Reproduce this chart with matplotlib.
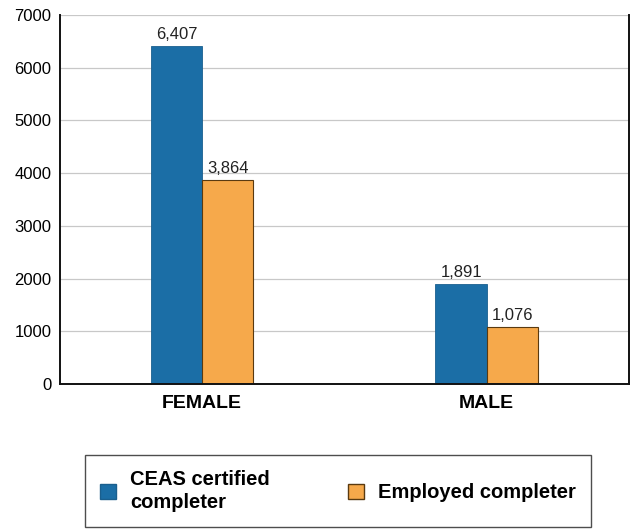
import matplotlib
matplotlib.use("Agg")
import matplotlib.pyplot as plt
from matplotlib.patches import Patch
import numpy as np

plt.rcParams['font.family'] = ['Liberation Sans', 'DejaVu Sans']

categories = ["FEMALE", "MALE"]
series_names = ["CEAS certified\ncompleter", "Employed completer"]
ceas = [6407, 1891]
employed = [3864, 1076]
yticks = [0, 1000, 2000, 3000, 4000, 5000, 6000, 7000]

blue = "#1b6ea6"
orange = "#f6a94b"

fig = plt.figure(figsize=(6.36, 5.29), dpi=100)
ax = fig.add_axes([0.094, 0.274, 0.895, 0.698])

x = np.arange(len(categories))
w = 0.18
b1 = ax.bar(x - w/2, ceas, w, color=blue, edgecolor="#1a5f8e", linewidth=0.6)
b2 = ax.bar(x + w/2, employed, w, color=orange, edgecolor="#5a3a10", linewidth=0.8)

for bars, vals in ((b1, ceas), (b2, employed)):
    for r, v in zip(bars, vals):
        ax.text(r.get_x() + r.get_width()/2, v + 80, f"{v:,}", ha="center", va="bottom",
                fontsize=12, color="#222222")

ax.set_xlim(-0.5, 1.5)
ax.set_ylim(0, 7000)
ax.set_yticks(yticks)
ax.set_yticklabels([str(t) for t in yticks], fontsize=12)
ax.set_xticks(x)
ax.set_xticklabels(categories, fontsize=14, fontweight="bold")
ax.tick_params(axis="y", length=0, pad=6)
ax.tick_params(axis="x", length=0, pad=8)
ax.yaxis.grid(True, color="#c8c8c8", linewidth=0.9)
ax.set_axisbelow(True)
for s in ("left", "bottom", "right"):
    ax.spines[s].set_color("#111111")
    ax.spines[s].set_linewidth(1.4)
ax.spines["top"].set_visible(False)

handles = [Patch(facecolor=blue, edgecolor="#1a5f8e"), Patch(facecolor=orange, edgecolor="#5a3a10")]
leg = fig.legend(handles, series_names, loc="center", bbox_to_anchor=(338/636, 1 - 491/529),
                 ncol=2, frameon=True, fancybox=False, edgecolor="#222222",
                 prop={"weight": "bold", "size": 14.5}, handlelength=0.8, handleheight=0.8,
                 columnspacing=3.9, borderpad=0.75, borderaxespad=0, handletextpad=0.7)
leg.get_frame().set_linewidth(1.0)
for t in leg.get_texts():
    t.set_linespacing(1.3)

fig.savefig("out.png", dpi=100)
